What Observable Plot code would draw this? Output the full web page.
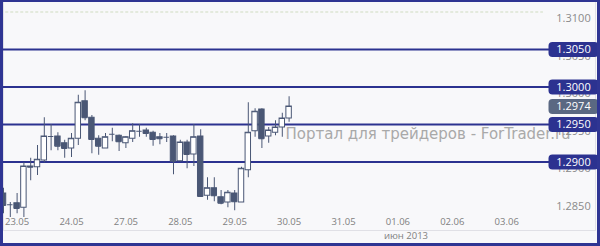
<!DOCTYPE html>
<html>
<head>
<meta charset="utf-8">
<script src="https://cdn.jsdelivr.net/npm/d3@7"></script>
<script src="https://cdn.jsdelivr.net/npm/@observablehq/plot@0.6"></script>
<style>
  html, body { margin: 0; padding: 0; background: #f8f8fa; }
  #wrap { position: relative; width: 600px; height: 246px; overflow: hidden; }
  #border { position: absolute; left: 0; top: 0; width: 600px; height: 246px; box-sizing: border-box;
            border: 3px solid #2f3593; border-top-width: 2px; pointer-events: none; }
</style>
</head>
<body>
<div id="wrap"><div id="border"></div></div>
<script>
// 3h candles, 23.05 – 30.05 (2013)
const open  = [1.2858,1.2843,1.2845,1.2839,1.2894,1.2893,1.2902,1.2934,1.2934,1.2925,1.2918,1.2931,1.2981,1.2959,1.2931,1.2918,1.2937,1.2935,1.2925,1.2931,1.2941,1.2942,1.2939,1.2933,1.2933,1.2934,1.2901,1.2926,1.2910,1.2934,1.2855,1.2865,1.2853,1.2846,1.2858,1.2846,1.2889,1.2941,1.2970,1.2934,1.2939,1.2946,1.2958];
const high  = [1.2865,1.2846,1.2858,1.2899,1.2905,1.2922,1.2959,1.2950,1.2939,1.2929,1.2938,1.2989,1.2995,1.2962,1.2935,1.2938,1.2945,1.2936,1.2934,1.2951,1.2950,1.2945,1.2941,1.2938,1.2938,1.2935,1.2929,1.2929,1.2950,1.2943,1.2879,1.2879,1.2862,1.2862,1.2862,1.2893,1.2979,1.2971,1.2971,1.2946,1.2955,1.2965,1.2987];
const low   = [1.2831,1.2826,1.2831,1.2826,1.2875,1.2882,1.2899,1.2915,1.2915,1.2905,1.2906,1.2922,1.2955,1.2911,1.2909,1.2918,1.2927,1.2914,1.2918,1.2926,1.2933,1.2933,1.2921,1.2923,1.2926,1.2883,1.2900,1.2891,1.2894,1.2853,1.2849,1.2847,1.2843,1.2839,1.2835,1.2846,1.2879,1.2933,1.2918,1.2925,1.2935,1.2933,1.2953];
const close = [1.2842,1.2843,1.2838,1.2894,1.2893,1.2903,1.2934,1.2934,1.2921,1.2918,1.2931,1.2979,1.2959,1.2930,1.2921,1.2933,1.2937,1.2927,1.2933,1.2941,1.2941,1.2938,1.2930,1.2931,1.2933,1.2901,1.2926,1.2910,1.2933,1.2854,1.2865,1.2855,1.2845,1.2859,1.2847,1.2891,1.2939,1.2967,1.2931,1.2942,1.2946,1.2958,1.2974];

const slotCount = 80;                       // 3h slots shown on the time axis
const tickSlots  = [2, 10, 18, 26, 34, 42, 50, 58, 66, 74];
const tickLabels = ["23.05","24.05","27.05","28.05","29.05","30.05","31.05","01.06","02.06","03.06"];
const monthLabel = "июн 2013";
const monthSlot  = 58;

const gridPrices  = [1.3100, 1.3050, 1.3000, 1.2950, 1.2900, 1.2850];
const levelPrices = [1.3050, 1.3000, 1.2950, 1.2900];
const currentPrice = 1.2974;
const topGrid = 1.3100;
const watermark = "Портал для трейдеров - ForTrader.ru";

const candles = open.map((o, i) => ({i, open: o, high: high[i], low: low[i], close: close[i]}));
const dark = "#4a5775";
const navy = "#2c3290";

const badge = {
  draw(ctx) {
    const w = 50, h = 15, r = 4, x0 = -w / 2, x1 = w / 2, y0 = -h / 2, y1 = h / 2;
    ctx.moveTo(x0 + r, y0);
    ctx.lineTo(x1 - r, y0); ctx.arcTo(x1, y0, x1, y0 + r, r);
    ctx.lineTo(x1, y1 - r); ctx.arcTo(x1, y1, x1 - r, y1, r);
    ctx.lineTo(x0 + r, y1); ctx.arcTo(x0, y1, x0, y1 - r, r);
    ctx.lineTo(x0, y0 + r); ctx.arcTo(x0, y0, x0 + r, y0, r);
    ctx.closePath();
  }
};

const right = {frameAnchor: "right", dx: -22, textAnchor: "middle"};

const chart = Plot.plot({
  width: 600,
  height: 246,
  marginLeft: 3,
  marginRight: 5,
  marginTop: 0,
  marginBottom: 16,
  style: {background: "#f8f8fa", fontFamily: "'Open Sans', sans-serif", overflow: "visible"},
  x: {type: "band", domain: d3.range(slotCount), range: [-0.4, 543.6], paddingInner: 0.2, paddingOuter: 0.1, axis: null},
  y: {domain: [1.2850, 1.3100], range: [199, 11.5], axis: null},
  marks: [
    Plot.frame({stroke: "#e0e0e6"}),
    Plot.ruleY([topGrid], {x1: 0, x2: slotCount - 1, stroke: "#cfdcc0", strokeDasharray: "3,2"}),
    Plot.text([watermark], {frameAnchor: "left", textAnchor: "start", dx: 282, dy: 19,
      fill: "#a9a9a9", fontSize: 15, fontFamily: "'DejaVu Sans', sans-serif"}),
    Plot.ruleY(levelPrices, {stroke: navy, strokeWidth: 2}),
    Plot.ruleX(candles, {x: "i", y1: "low", y2: "high", stroke: dark}),
    Plot.barY(candles, {filter: d => d.close < d.open, x: "i", y1: "open", y2: "close", fill: dark, stroke: dark}),
    Plot.barY(candles, {filter: d => d.close >= d.open, x: "i", y1: "open", y2: "close", fill: "white", stroke: dark}),
    Plot.tickY(candles, {x: "i", y: "close", stroke: dark}),
    Plot.text(tickSlots, {x: d => d, text: (d, k) => tickLabels[k], frameAnchor: "bottom", dy: -6,
      fill: "#808080", fontSize: 9.5}),
    Plot.text([monthLabel], {x: () => monthSlot, frameAnchor: "bottom", textAnchor: "start", dx: -14, dy: 8,
      fill: "#808080", fontSize: 9.5}),
    Plot.text(gridPrices, {...right, y: d => d, text: d => d.toFixed(4), dy: 6.5,
      fill: "#8a8a8a", fontSize: 11}),
    Plot.dot(levelPrices, {y: d => d, frameAnchor: "right", dx: -22, symbol: badge, fill: navy, stroke: "none"}),
    Plot.text(levelPrices, {...right, y: d => d, text: d => d.toFixed(4), fill: "white", fontSize: 11}),
    Plot.dot([currentPrice], {y: d => d, frameAnchor: "right", dx: -22, symbol: badge, fill: "#5a6882", stroke: "none"}),
    Plot.text([currentPrice], {...right, y: d => d, text: d => d.toFixed(4), fill: "white", fontSize: 11})
  ]
});
document.getElementById("wrap").insertBefore(chart, document.getElementById("border"));
</script>
</body>
</html>
